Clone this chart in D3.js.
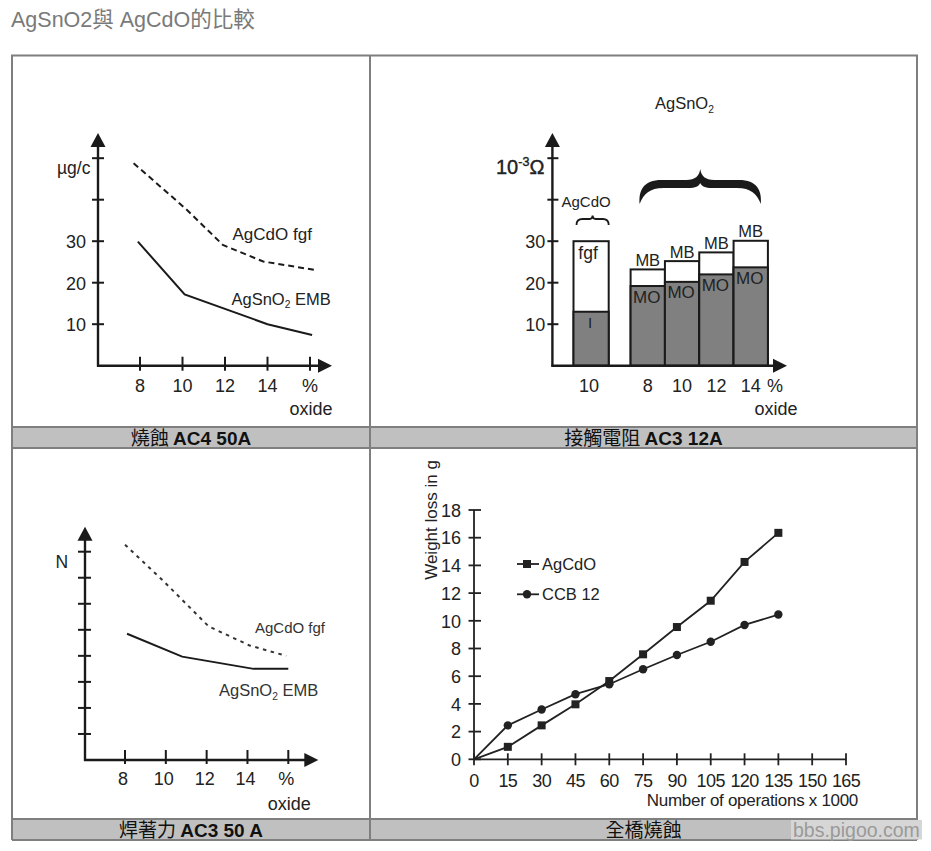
<!DOCTYPE html>
<html><head><meta charset="utf-8">
<script src="https://cdn.jsdelivr.net/npm/d3@7"></script>
<style>
body{margin:0;background:#fff}
svg{display:block}
text{font-family:"Liberation Sans",Arial,"Noto Sans CJK TC",sans-serif;fill:#222}
</style>
</head><body>
<svg id="c" width="931" height="851"></svg>
<script>
// ---------------- DATA ----------------
const pageTitle = "AgSnO2與 AgCdO的比較";
const captionTop = [["燒蝕 ","AC4 50A"],["接觸電阻 ","AC3 12A"]];
const captionBottom = [["焊著力 ","AC3 50 A"],["全橋燒蝕",""]];
const watermark = "bbs.pigoo.com";

// Panel 1 : erosion AC4 50A (µg/c vs % oxide)
const oxideTicks = [8, 10, 12, 14];
const oxideTickLabels = ["8", "10", "12", "14", "%"];
const erosionYTicks = [10, 20, 30, 40, 50];
const erosionYLabels = [10, 20, 30];
const erosionFgfX = [7.7, 10.2, 11.9, 13.8, 16.2];
const erosionFgfY = [48.8, 37.6, 29.1, 25.1, 23.1];
const erosionEmbX = [7.9, 10.1, 14.0, 16.1];
const erosionEmbY = [29.9, 17.2, 10.0, 7.4];

// Panel 2 : contact resistance AC3 12A (10^-3 Ω)
const resistYTicks = [10, 20, 30, 40, 50];
const resistYLabels = [10, 20, 30];
const resistCdoCats = ["10"];
const resistCdoI = [13];
const resistCdoFgf = [30];
const resistSnoCats = ["8", "10", "12", "14"];
const resistSnoMO = [19.2, 20.2, 22.0, 23.7];
const resistSnoMB = [23.2, 25.2, 27.3, 30.1];

// Panel 3 : welding force AC3 50 A (N)
const weldYTicks = [1, 2, 3, 4, 5, 6, 7, 8];
const weldFgfX = [8.0, 9.9, 12.1, 14.1, 15.9];
const weldFgfY = [8.27, 6.86, 5.13, 4.4, 4.0];
const weldEmbX = [8.1, 10.8, 14.3, 16.0];
const weldEmbY = [4.85, 3.97, 3.5, 3.5];

// Panel 4 : full bridge erosion
const opsX = [0, 15, 30, 45, 60, 75, 90, 105, 120, 135];
const agcdoLoss = [0, 0.9, 2.45, 3.97, 5.65, 7.58, 9.55, 11.45, 14.25, 16.35];
const ccbLoss = [0, 2.45, 3.6, 4.7, 5.42, 6.5, 7.53, 8.49, 9.7, 10.45];
const opsTicks = [0, 15, 30, 45, 60, 75, 90, 105, 120, 135, 150, 165];
const lossTicks = [0, 2, 4, 6, 8, 10, 12, 14, 16, 18];

// ---------------- DRAW ----------------
const svg = d3.select("#c");
svg.append("rect").attr("width", 931).attr("height", 851).attr("fill", "#fff");

// title
svg.append("text").attr("x", 11).attr("y", 27).attr("font-size", 21.5)
  .style("fill", "#7a7a7a").text(pageTitle);

// table frame
const TL = 12, TR = 917, TT = 55.5, MID = 370;
const cap1 = [427, 448], cap2 = [819, 840];
const lineCol = "#7f7f7f";
[cap1, cap2].forEach(c => {
  svg.append("rect").attr("x", TL).attr("y", c[0]).attr("width", TR - TL).attr("height", c[1] - c[0]).attr("fill", "#c0c0c0");
});
const frame = svg.append("g").attr("stroke", lineCol).attr("stroke-width", 2).attr("fill", "none");
frame.append("line").attr("x1", TL - 1).attr("x2", TR + 1).attr("y1", TT).attr("y2", TT);
frame.append("line").attr("x1", TL).attr("x2", TL).attr("y1", TT).attr("y2", cap2[1]);
frame.append("line").attr("x1", TR).attr("x2", TR).attr("y1", TT).attr("y2", cap2[1]);
frame.append("line").attr("x1", MID).attr("x2", MID).attr("y1", TT).attr("y2", cap2[1]);
[cap1[0], cap1[1], cap2[0], cap2[1]].forEach(y => {
  frame.append("line").attr("x1", TL).attr("x2", TR).attr("y1", y).attr("y2", y);
});

// watermark
svg.append("rect").attr("x", 791).attr("y", 820).attr("width", 131).attr("height", 19.5).attr("fill", "#d6d6d6");

function caption(pair, cx, cy) {
  const t = svg.append("text").attr("x", cx).attr("y", cy).attr("text-anchor", "middle")
    .attr("font-size", 19).style("fill", "#111");
  t.append("tspan").style("font-family", '"Noto Sans CJK TC",sans-serif').text(pair[0]);
  if (pair[1]) t.append("tspan").attr("font-weight", "bold").text(pair[1]);
}
caption(captionTop[0], (TL + MID) / 2, 444.5);
caption(captionTop[1], (MID + TR) / 2, 444.5);
caption(captionBottom[0], (TL + MID) / 2, 836.5);
caption(captionBottom[1], (MID + TR) / 2, 836.5);
svg.append("text").attr("x", 793).attr("y", 837).attr("font-size", 19.5).style("fill", "#9a9a9a").text(watermark);

// helpers
const ink = "#1a1a1a";
function arrowUp(g, x, tip) {
  g.append("path").attr("d", `M${x},${tip} L${x - 7.5},${tip + 14} L${x + 7.5},${tip + 14} Z`).attr("fill", ink);
}
function arrowRight(g, tip, y) {
  g.append("path").attr("d", `M${tip},${y} L${tip - 14},${y - 7} L${tip - 14},${y + 7} Z`).attr("fill", ink);
}
function subLabel(g, x, y, main, sub, rest, size, anchor) {
  const t = g.append("text").attr("x", x).attr("y", y).attr("font-size", size).attr("text-anchor", anchor || "start");
  t.append("tspan").text(main);
  t.append("tspan").attr("font-size", size * 0.62).attr("dy", size * 0.22).text(sub);
  if (rest) t.append("tspan").attr("dy", -size * 0.22).text(rest);
  return t;
}

// ---------- Panel 1 ----------
{
  const g = svg.append("g");
  const x = d3.scaleLinear().domain([8, 16]).range([140, 310]);
  const y = d3.scaleLinear().domain([0, 50]).range([365.7, 158.2]);
  const ax = 98, ay = y(0);
  g.append("line").attr("x1", ax).attr("x2", ax).attr("y1", ay + 1).attr("y2", 140).attr("stroke", ink).attr("stroke-width", 2.4);
  g.append("line").attr("x1", ax - 1).attr("x2", 325).attr("y1", ay).attr("y2", ay).attr("stroke", ink).attr("stroke-width", 2.4);
  arrowUp(g, ax, 133); arrowRight(g, 332, ay);
  g.selectAll(".yt").data(erosionYTicks).join("line").attr("x1", ax - 6).attr("x2", ax + 6)
    .attr("y1", d => y(d)).attr("y2", d => y(d)).attr("stroke", ink).attr("stroke-width", 2);
  g.selectAll(".yl").data(erosionYLabels).join("text").attr("x", ax - 12).attr("y", d => y(d) + 7)
    .attr("text-anchor", "end").attr("font-size", 18).text(d => d);
  const xt = oxideTicks.concat([16]);
  g.selectAll(".xt").data(xt).join("line").attr("x1", d => x(d)).attr("x2", d => x(d))
    .attr("y1", ay - 9).attr("y2", ay + 5).attr("stroke", ink).attr("stroke-width", 2);
  g.selectAll(".xl").data(xt).join("text").attr("x", d => x(d)).attr("y", 391.5)
    .attr("text-anchor", "middle").attr("font-size", 18).text((d, i) => oxideTickLabels[i]);
  g.append("text").attr("x", x(16) + 1).attr("y", 414.5).attr("text-anchor", "middle").attr("font-size", 18).text("oxide");
  g.append("text").attr("x", 57).attr("y", 174).attr("font-size", 17.5).text("µg/c");
  const line = d3.line().x(d => x(d[0])).y(d => y(d[1]));
  g.append("path").attr("d", line(d3.zip(erosionFgfX, erosionFgfY))).attr("fill", "none")
    .attr("stroke", ink).attr("stroke-width", 2).attr("stroke-dasharray", "6,4");
  g.append("path").attr("d", line(d3.zip(erosionEmbX, erosionEmbY))).attr("fill", "none")
    .attr("stroke", ink).attr("stroke-width", 2);
  g.append("text").attr("x", 232.5).attr("y", 240).attr("font-size", 17).text("AgCdO fgf");
  subLabel(g, 231.5, 304.5, "AgSnO", "2", " EMB", 16.5);
}

// ---------- Panel 2 ----------
{
  const g = svg.append("g");
  const y = d3.scaleLinear().domain([0, 50]).range([365.7, 158.2]);
  const xCdo = d3.scaleBand().domain(resistCdoCats).range([573.5, 608.7]);
  const xSno = d3.scaleBand().domain(resistSnoCats).range([630.6, 767.9]);
  const ax = 552.4, ay = y(0);
  const gray = "#808080";
  // bars
  resistCdoCats.forEach((c, i) => {
    g.append("rect").attr("x", xCdo(c)).attr("y", y(resistCdoFgf[i])).attr("width", xCdo.bandwidth())
      .attr("height", y(0) - y(resistCdoFgf[i])).attr("fill", "#fff").attr("stroke", ink).attr("stroke-width", 2);
    g.append("rect").attr("x", xCdo(c)).attr("y", y(resistCdoI[i])).attr("width", xCdo.bandwidth())
      .attr("height", y(0) - y(resistCdoI[i])).attr("fill", gray).attr("stroke", ink).attr("stroke-width", 2);
    g.append("text").attr("x", xCdo(c) + xCdo.bandwidth() / 2 - 3).attr("y", y(resistCdoFgf[i]) + 18)
      .attr("text-anchor", "middle").attr("font-size", 17.5).text("fgf");
    g.append("text").attr("x", xCdo(c) + xCdo.bandwidth() / 2 - 1).attr("y", y(resistCdoI[i]) + 16)
      .attr("text-anchor", "middle").attr("font-size", 15).text("I");
    g.append("text").attr("x", xCdo(c) + xCdo.bandwidth() / 2 - 2).attr("y", 391.5)
      .attr("text-anchor", "middle").attr("font-size", 18).text(c);
  });
  resistSnoCats.forEach((c, i) => {
    const bx = xSno(c), bw = xSno.bandwidth();
    g.append("rect").attr("x", bx).attr("y", y(resistSnoMB[i])).attr("width", bw)
      .attr("height", y(0) - y(resistSnoMB[i])).attr("fill", "#fff").attr("stroke", ink).attr("stroke-width", 2);
    g.append("rect").attr("x", bx).attr("y", y(resistSnoMO[i])).attr("width", bw)
      .attr("height", y(0) - y(resistSnoMO[i])).attr("fill", gray).attr("stroke", ink).attr("stroke-width", 2);
    g.append("text").attr("x", bx + bw / 2).attr("y", y(resistSnoMB[i]) - 3.5)
      .attr("text-anchor", "middle").attr("font-size", 16.5).text("MB");
    g.append("text").attr("x", bx + bw / 2 - 1).attr("y", y(resistSnoMO[i]) + 16.5)
      .attr("text-anchor", "middle").attr("font-size", 17).text("MO");
    g.append("text").attr("x", bx + bw / 2).attr("y", 391.5)
      .attr("text-anchor", "middle").attr("font-size", 18).text(c);
  });
  g.append("text").attr("x", xSno.range()[1] + 7).attr("y", 391.5).attr("text-anchor", "middle").attr("font-size", 18).text("%");
  g.append("text").attr("x", xSno.range()[1] + 8).attr("y", 414.5).attr("text-anchor", "middle").attr("font-size", 18).text("oxide");
  // axes
  g.append("line").attr("x1", ax).attr("x2", ax).attr("y1", ay + 1).attr("y2", 140).attr("stroke", ink).attr("stroke-width", 2.4);
  g.append("line").attr("x1", ax - 1).attr("x2", 780).attr("y1", ay).attr("y2", ay).attr("stroke", ink).attr("stroke-width", 2.4);
  arrowUp(g, ax, 133); arrowRight(g, 787, ay);
  g.selectAll(".yt").data(resistYTicks).join("line").attr("x1", ax - 5).attr("x2", ax + 6)
    .attr("y1", d => y(d)).attr("y2", d => y(d)).attr("stroke", ink).attr("stroke-width", 2);
  g.selectAll(".yl").data(resistYLabels).join("text").attr("x", ax - 7).attr("y", d => y(d) + 7)
    .attr("text-anchor", "end").attr("font-size", 18).text(d => d);
  // unit
  const u = g.append("text").attr("x", 496).attr("y", 173.5).attr("font-size", 20).style("stroke", "#222").style("stroke-width", 0.4);
  u.append("tspan").text("10");
  u.append("tspan").attr("font-size", 12.5).attr("dy", -7.5).text("-3");
  u.append("tspan").attr("dy", 7.5).text("Ω");
  // labels
  g.append("text").attr("x", 561.5).attr("y", 207).attr("font-size", 15).text("AgCdO");
  subLabel(g, 655, 109, "AgSnO", "2", "", 16.5);
  // small brace
  const cb0 = xCdo.range()[0] + 3, cb1 = xCdo.range()[1], cbm = (cb0 + cb1) / 2;
  g.append("path").attr("d", `M${cb0},225 Q${cb0},219 ${cb0 + 6},219 L${cbm - 3},219 Q${cbm},219 ${cbm},215.5 Q${cbm},219 ${cbm + 3},219 L${cb1 - 6},219 Q${cb1},219 ${cb1},225`)
    .attr("fill", "none").attr("stroke", ink).attr("stroke-width", 1.8);
  // big brace
  const b0 = xSno.range()[0] + 9, b1 = xSno.range()[1] - 7, bm = (b0 + b1) / 2;
  g.append("path").attr("d",
    `M${b0},204 C${b0 - 1},190 ${b0 + 4},180 ${b0 + 22},180 L${bm - 14},180 C${bm - 5},180 ${bm - 1},176 ${bm},169 ` +
    `C${bm + 1},176 ${bm + 5},180 ${bm + 14},180 L${b1 - 22},180 C${b1 - 4},180 ${b1 + 1},190 ${b1},204 ` +
    `C${b1 - 4},194 ${b1 - 10},188 ${b1 - 24},188 L${bm + 12},188 C${bm + 5},188 ${bm + 1},186 ${bm},183 ` +
    `C${bm - 1},186 ${bm - 5},188 ${bm - 12},188 L${b0 + 24},188 C${b0 + 10},188 ${b0 + 4},194 ${b0},204 Z`)
    .attr("fill", ink);
}

// ---------- Panel 3 ----------
{
  const g = svg.append("g");
  const x = d3.scaleLinear().domain([8, 16]).range([125, 288.3]);
  const y = d3.scaleLinear().domain([0, 8]).range([760, 551.7]);
  const ax = 85, ay = y(0);
  g.append("line").attr("x1", ax).attr("x2", ax).attr("y1", ay + 1).attr("y2", 534).attr("stroke", ink).attr("stroke-width", 2.4);
  g.append("line").attr("x1", ax - 1).attr("x2", 311).attr("y1", ay).attr("y2", ay).attr("stroke", ink).attr("stroke-width", 2.4);
  arrowUp(g, ax, 526.7); arrowRight(g, 318.3, ay);
  g.selectAll(".yt").data(weldYTicks).join("line").attr("x1", ax - 7).attr("x2", ax + 6)
    .attr("y1", d => y(d)).attr("y2", d => y(d)).attr("stroke", ink).attr("stroke-width", 2);
  const xt = oxideTicks.concat([16]);
  g.selectAll(".xt").data(xt).join("line").attr("x1", d => x(d)).attr("x2", d => x(d))
    .attr("y1", ay - 10).attr("y2", ay + 4).attr("stroke", ink).attr("stroke-width", 2);
  g.selectAll(".xl").data(xt).join("text").attr("x", d => x(d) - 2).attr("y", 785)
    .attr("text-anchor", "middle").attr("font-size", 18).text((d, i) => oxideTickLabels[i]);
  g.append("text").attr("x", x(16) + 1).attr("y", 809.5).attr("text-anchor", "middle").attr("font-size", 18).text("oxide");
  g.append("text").attr("x", 55.5).attr("y", 568).attr("font-size", 17.5).text("N");
  const line = d3.line().x(d => x(d[0])).y(d => y(d[1]));
  g.append("path").attr("d", line(d3.zip(weldFgfX, weldFgfY))).attr("fill", "none")
    .attr("stroke", "#333").attr("stroke-width", 2).attr("stroke-dasharray", "3.5,4.5");
  g.append("path").attr("d", line(d3.zip(weldEmbX, weldEmbY))).attr("fill", "none")
    .attr("stroke", ink).attr("stroke-width", 2);
  g.append("text").attr("x", 255).attr("y", 633).attr("font-size", 15).style("fill", "#333").text("AgCdO fgf");
  subLabel(g, 219, 696, "AgSnO", "2", " EMB", 16.5).style("fill", "#333");
}

// ---------- Panel 4 ----------
{
  const g = svg.append("g");
  const x = d3.scaleLinear().domain([0, 165]).range([474, 846]);
  const y = d3.scaleLinear().domain([0, 18]).range([759.3, 510]);
  const c = "#222";
  g.append("line").attr("x1", x(0)).attr("x2", x(0)).attr("y1", y(0)).attr("y2", y(18)).attr("stroke", c).attr("stroke-width", 1.8);
  g.append("line").attr("x1", x(0)).attr("x2", x(165)).attr("y1", y(0)).attr("y2", y(0)).attr("stroke", c).attr("stroke-width", 1.8);
  g.selectAll(".yt").data(lossTicks).join("line").attr("x1", x(0) - 5.5).attr("x2", x(0) + 7)
    .attr("y1", d => y(d)).attr("y2", d => y(d)).attr("stroke", c).attr("stroke-width", 1.8);
  g.selectAll(".yl").data(lossTicks).join("text").attr("x", x(0) - 13).attr("y", d => y(d) + 6.7)
    .attr("text-anchor", "end").attr("font-size", 18).text(d => d);
  g.selectAll(".xt").data(opsTicks).join("line").attr("x1", d => x(d)).attr("x2", d => x(d))
    .attr("y1", y(0) - 6).attr("y2", y(0) + 6).attr("stroke", c).attr("stroke-width", 1.8);
  g.selectAll(".xl").data(opsTicks).join("text").attr("x", d => x(d)).attr("y", 786.5)
    .attr("text-anchor", "middle").attr("font-size", 18).attr("letter-spacing", -0.6).text(d => d);
  g.append("text").attr("x", 858).attr("y", 806).attr("text-anchor", "end").attr("font-size", 17).attr("letter-spacing", -0.3)
    .text("Number of operations x 1000");
  g.append("text").attr("transform", "translate(437,520) rotate(-90)").attr("text-anchor", "middle")
    .attr("font-size", 17).text("Weight loss in g");
  const line = d3.line().x((d, i) => x(opsX[i])).y(d => y(d));
  g.append("path").attr("d", line(agcdoLoss)).attr("fill", "none").attr("stroke", c).attr("stroke-width", 1.8);
  g.append("path").attr("d", line(ccbLoss)).attr("fill", "none").attr("stroke", c).attr("stroke-width", 1.8);
  g.selectAll(".sq").data(agcdoLoss.slice(1)).join("rect")
    .attr("x", (d, i) => x(opsX[i + 1]) - 4).attr("y", d => y(d) - 4).attr("width", 8).attr("height", 8).attr("fill", c);
  g.selectAll(".ci").data(ccbLoss.slice(1)).join("circle")
    .attr("cx", (d, i) => x(opsX[i + 1])).attr("cy", d => y(d)).attr("r", 4.2).attr("fill", c);
  // legend
  const lg = [{name: "AgCdO", yy: 564, m: "sq"}, {name: "CCB 12", yy: 594.3, m: "ci"}];
  lg.forEach(l => {
    g.append("line").attr("x1", 517).attr("x2", 539).attr("y1", l.yy).attr("y2", l.yy).attr("stroke", c).attr("stroke-width", 1.8);
    if (l.m === "sq") g.append("rect").attr("x", 523).attr("y", l.yy - 4).attr("width", 8).attr("height", 8).attr("fill", c);
    else g.append("circle").attr("cx", 527).attr("cy", l.yy).attr("r", 4.2).attr("fill", c);
    g.append("text").attr("x", 542).attr("y", l.yy + 5.5).attr("font-size", 16.5).text(l.name);
  });
}
</script>
</body></html>
